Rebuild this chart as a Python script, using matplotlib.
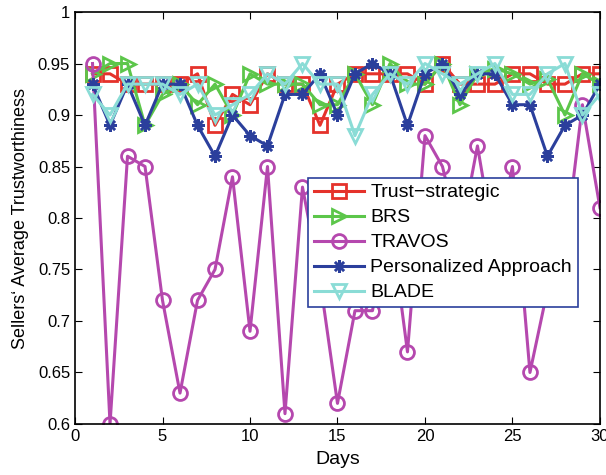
import matplotlib
matplotlib.use("Agg")
import matplotlib.pyplot as plt

plt.rcParams['font.family'] = ['Liberation Sans', 'DejaVu Sans']

# dias 1..30
days = list(range(1, 31))

trust_strategic = [0.94, 0.94, 0.93, 0.93, 0.93, 0.93, 0.94, 0.89, 0.92, 0.91,
                   0.94, 0.93, 0.93, 0.89, 0.93, 0.94, 0.94, 0.94, 0.94, 0.93,
                   0.95, 0.93, 0.93, 0.93, 0.94, 0.94, 0.93, 0.93, 0.94, 0.94]
brs = [0.94, 0.95, 0.95, 0.89, 0.92, 0.93, 0.91, 0.93, 0.90, 0.94,
       0.93, 0.93, 0.93, 0.91, 0.91, 0.94, 0.91, 0.95, 0.93, 0.93,
       0.95, 0.91, 0.94, 0.945, 0.94, 0.93, 0.935, 0.90, 0.94, 0.93]
travos = [0.95, 0.60, 0.86, 0.85, 0.72, 0.63, 0.72, 0.75, 0.84, 0.69,
          0.85, 0.61, 0.83, 0.74, 0.62, 0.71, 0.71, 0.80, 0.67, 0.88,
          0.85, 0.78, 0.87, 0.77, 0.85, 0.65, 0.73, 0.77, 0.91, 0.81]
personalized = [0.93, 0.89, 0.93, 0.89, 0.93, 0.93, 0.89, 0.86, 0.90, 0.88,
                0.87, 0.92, 0.92, 0.94, 0.90, 0.94, 0.95, 0.94, 0.89, 0.94,
                0.95, 0.92, 0.94, 0.94, 0.91, 0.91, 0.86, 0.89, 0.90, 0.93]
blade = [0.92, 0.90, 0.93, 0.93, 0.93, 0.92, 0.93, 0.90, 0.91, 0.92,
         0.94, 0.93, 0.95, 0.93, 0.93, 0.88, 0.92, 0.94, 0.93, 0.95,
         0.94, 0.93, 0.94, 0.95, 0.92, 0.92, 0.94, 0.95, 0.90, 0.92]

fig = plt.figure(figsize=(6.06, 4.75), dpi=100)
ax = fig.add_axes([0.1238, 0.1074, 0.8662, 0.8673])

estilo = dict(linewidth=2.2, markersize=10, markeredgewidth=2, markerfacecolor='none')
ax.plot(days, trust_strategic, marker='s', color='#e5322b', label='Trust\u2212strategic', **estilo)
ax.plot(days, brs, marker='>', color='#5cc64a', label='BRS', **estilo)
ax.plot(days, travos, marker='o', color='#b548ae', label='TRAVOS', **estilo)
# asterisco do matlab
ax.plot(days, personalized, marker=(8, 2, 0), color='#2b3f9c', label='Personalized Approach',
        linewidth=2.2, markersize=9, markeredgewidth=1.8)
ax.plot(days, blade, marker='v', color='#8adcd6', label='BLADE', **estilo)

ax.set_xlim(0, 30)
ax.set_ylim(0.6, 1)
ax.set_xticks([0, 5, 10, 15, 20, 25, 30])
ax.set_yticks([0.6, 0.65, 0.7, 0.75, 0.8, 0.85, 0.9, 0.95, 1])
ax.set_yticklabels(['0.6', '0.65', '0.7', '0.75', '0.8', '0.85', '0.9', '0.95', '1'])
ax.tick_params(direction='in', top=True, right=True, labelsize=12, length=5)
ax.set_xlabel('Days', fontsize=14, labelpad=5)
ax.set_ylabel('Sellers\u2018 Average Trustworthiness', fontsize=13, labelpad=6)
for s in ax.spines.values():
    s.set_linewidth(1.2)

leg = ax.legend(loc='upper left', bbox_to_anchor=(0.444, 0.597), borderaxespad=0,
                fontsize=14, handlelength=2.6, handletextpad=0.3, labelspacing=0.38,
                fancybox=False, framealpha=1, borderpad=0.3)
leg.get_frame().set_edgecolor('#2b3f9c')
leg.get_frame().set_linewidth(1.2)

fig.savefig('out.png', dpi=100)
